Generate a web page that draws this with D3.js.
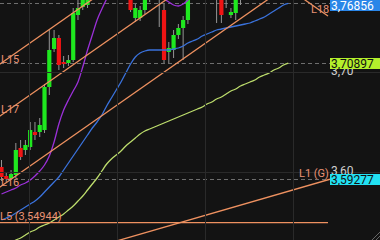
<!DOCTYPE html>
<html>
<head>
<meta charset="utf-8">
<script src="https://cdn.jsdelivr.net/npm/d3@7"></script>
<style>
  html, body { margin: 0; padding: 0; background: #131313; overflow: hidden; }
  #grafica { width: 380px; height: 240px; }
  text { font-family: Roboto, "Noto Sans", sans-serif; }
</style>
</head>
<body>
<div id="grafica"></div>
<script>
// Velas: apertura, cierre, máximo, mínimo (una por índice)
const aperturas = [3.605,3.596,3.594,3.597,3.624,3.622,3.625,3.640,3.640,3.642,
  3.685,3.723,3.734,3.710,3.709,3.712,3.757,3.765,3.767,3.780,
  3.790,3.785,3.795,3.801,3.792,3.785,3.795,3.785,3.754,3.754,
  3.762,3.775,3.785,3.778,3.762,3.720,3.722,3.737,3.744,3.752,
  3.782,3.790,3.783,3.792,3.785,3.790,3.780,3.778,3.757,3.759,
  3.778,3.786,3.780,3.790,3.796,3.788,3.797,3.803,3.795,3.804,3.798];
const cierres = [3.595,3.593,3.598,3.622,3.615,3.627,3.642,3.637,3.647,3.685,
  3.722,3.734,3.707,3.708,3.712,3.759,3.764,3.774,3.782,3.790,
  3.785,3.795,3.801,3.792,3.785,3.795,3.780,3.762,3.764,3.762,
  3.775,3.785,3.778,3.786,3.712,3.724,3.737,3.744,3.752,3.782,
  3.790,3.783,3.792,3.785,3.790,3.780,3.757,3.774,3.760,3.778,
  3.786,3.780,3.790,3.796,3.788,3.797,3.803,3.795,3.804,3.798,3.805];
const maximos = [3.612,3.600,3.602,3.629,3.632,3.632,3.650,3.650,3.654,3.688,
  3.742,3.742,3.737,3.716,3.717,3.764,3.772,3.780,3.787,3.795,
  3.796,3.800,3.806,3.805,3.797,3.800,3.798,3.790,3.768,3.766,
  3.780,3.790,3.792,3.790,3.768,3.730,3.742,3.748,3.756,3.788,
  3.795,3.794,3.797,3.798,3.794,3.793,3.784,3.783,3.764,3.784,
  3.790,3.792,3.795,3.800,3.801,3.802,3.807,3.806,3.808,3.809,3.810];
const minimos = [3.591,3.590,3.592,3.594,3.612,3.617,3.622,3.632,3.635,3.639,
  3.677,3.720,3.702,3.704,3.706,3.710,3.752,3.762,3.764,3.776,
  3.779,3.781,3.790,3.786,3.778,3.779,3.774,3.760,3.750,3.751,
  3.758,3.770,3.774,3.745,3.709,3.709,3.714,3.733,3.712,3.748,
  3.776,3.778,3.779,3.780,3.776,3.749,3.749,3.764,3.754,3.752,
  3.767,3.775,3.776,3.785,3.784,3.785,3.793,3.790,3.791,3.794,3.795];

// Medias móviles
const mediaMorada = [3.578,3.580,3.582,3.584,3.587,3.589,3.592,3.596,3.601,3.607,
  3.616,3.630,3.648,3.662,3.672,3.681,3.690,3.705,3.722,3.737,
  3.752,3.763,3.773,3.781,3.787,3.792,3.796,3.797,3.796,3.792,
  3.787,3.782,3.778,3.775,3.773,3.770,3.767,3.766,3.768,3.772,
  3.777,3.781,3.785,3.787,3.788,3.787,3.786,3.786,3.787,3.789,
  3.791,3.793,3.794,3.795,3.795,3.794,3.793,3.792,3.791,3.790,3.789];
const mediaAzul = [3.552,3.554,3.556,3.559,3.562,3.565,3.568,3.571,3.575,3.580,
  3.585,3.590,3.595,3.602,3.609,3.616,3.623,3.630,3.637,3.644,
  3.650,3.657,3.666,3.674,3.682,3.690,3.699,3.708,3.715,3.719,
  3.721,3.722,3.722,3.722,3.722,3.722,3.723,3.724,3.726,3.729,
  3.731,3.733,3.736,3.738,3.740,3.742,3.743,3.744,3.745,3.746,
  3.747,3.748,3.749,3.751,3.753,3.755,3.758,3.761,3.764,3.767,3.76856];
const mediaVerde = [3.523,3.526,3.529,3.532,3.534,3.537,3.540,3.542,3.545,3.547,
  3.549,3.552,3.555,3.558,3.562,3.566,3.571,3.576,3.582,3.588,
  3.594,3.601,3.608,3.613,3.617,3.621,3.626,3.630,3.634,3.638,
  3.641,3.643,3.645,3.647,3.649,3.651,3.653,3.655,3.657,3.659,
  3.661,3.663,3.665,3.668,3.670,3.673,3.675,3.678,3.681,3.683,
  3.686,3.688,3.690,3.692,3.695,3.697,3.699,3.702,3.704,3.707,3.70897];

// Escala de precios y rejilla de tiempo
const ticksPrecio = [3.60, 3.70];
const ticksTiempo = [5.75, 24.16, 42.57, 60.98];

// Líneas dibujadas: nombre, [índice, precio] inicio y fin
const lineasNombres = ["L15", "L17", "L16", "L18", "L1 (G)", "L5 (3,54944)"];
const lineasInicio = [[-1.36, 3.7045], [-1.36, 3.6525], [-1.36, 3.5815], [60.36, 3.7825], [22.7, 3.5291], [-1.36, 3.54944]];
const lineasFin = [[22.7, 3.785], [37.34, 3.782], [58.26, 3.781], [68.3, 3.756], [68.72, 3.59277], [68.3, 3.54944]];

// Etiquetas de valor actual en la escala
const marcasValor = [3.76856, 3.70897, 3.59277];
const marcasColor = ["#2a86e8", "#b4f02c", "#22e1f2"];
const marcasTexto = ["#ffffff", "#111111", "#111111"];

const ancho = 380, alto = 240;
const finPlot = 330;

const svg = d3.select("#grafica")
  .append("svg")
  .attr("width", ancho)
  .attr("height", alto);

svg.append("rect").attr("width", ancho).attr("height", alto).attr("fill", "#131313");

const x = d3.scaleLinear().domain([0, 60]).range([1.5, 288.3]);
const y = d3.scaleLinear().domain([3.60, 3.70]).range([172, 72]);

svg.append("clipPath").attr("id", "recorte")
  .append("rect").attr("width", finPlot).attr("height", alto);

const g = svg.append("g").attr("clip-path", "url(#recorte)");

// rejilla
svg.selectAll(".gridV").data(ticksTiempo).join("line")
  .attr("x1", d => Math.round(x(d)) + 0.5).attr("x2", d => Math.round(x(d)) + 0.5)
  .attr("y1", 0).attr("y2", alto)
  .attr("stroke", "#2a2a2a").attr("stroke-width", 1);
svg.selectAll(".gridH").data(ticksPrecio).join("line")
  .attr("x1", 0).attr("x2", ancho)
  .attr("y1", d => Math.round(y(d)) + 0.5).attr("y2", d => Math.round(y(d)) + 0.5)
  .attr("stroke", "#2a2a2a").attr("stroke-width", 1);

// líneas discontinuas de precio
g.selectAll(".dash").data(marcasValor).join("line")
  .attr("x1", 0).attr("x2", finPlot)
  .attr("y1", d => Math.round(y(d)) + 0.5).attr("y2", d => Math.round(y(d)) + 0.5)
  .attr("stroke", "#6e6e6e").attr("stroke-width", 1)
  .attr("stroke-dasharray", "4,3");

// velas
const idx = d3.range(aperturas.length);
const anchoVela = 4.2;
g.selectAll(".mecha").data(idx).join("line")
  .attr("x1", i => x(i)).attr("x2", i => x(i))
  .attr("y1", i => y(maximos[i])).attr("y2", i => y(minimos[i]))
  .attr("stroke", "#959595").attr("stroke-width", 1);
g.selectAll(".cuerpo").data(idx).join("rect")
  .attr("x", i => x(i) - anchoVela / 2)
  .attr("width", anchoVela)
  .attr("y", i => y(Math.max(aperturas[i], cierres[i])))
  .attr("height", i => Math.max(1.5, Math.abs(y(aperturas[i]) - y(cierres[i]))))
  .attr("fill", i => cierres[i] >= aperturas[i] ? "#1fe81f" : "#f01414");

// medias
const linea = d3.line().x((d, i) => x(i)).y(d => y(d)).curve(d3.curveMonotoneX);
[[mediaVerde, "#bcdc6c"], [mediaAzul, "#3a72dc"], [mediaMorada, "#9b30d8"]].forEach(([serie, color]) => {
  g.append("path").datum(serie)
    .attr("d", linea)
    .attr("fill", "none")
    .attr("stroke", color)
    .attr("stroke-width", 1.3);
});

// líneas de tendencia y horizontales
g.selectAll(".tend").data(lineasNombres).join("line")
  .attr("x1", (d, k) => x(lineasInicio[k][0])).attr("y1", (d, k) => y(lineasInicio[k][1]))
  .attr("x2", (d, k) => x(lineasFin[k][0])).attr("y2", (d, k) => y(lineasFin[k][1]))
  .attr("stroke", "#ee9160").attr("stroke-width", 1.3);

// nombres de las líneas
const posNombre = [[1, 63], [1, 113], [1, 186], [311, 13], [299, 177], [0, 220]];
svg.selectAll(".nombre").data(lineasNombres).join("text")
  .attr("x", (d, k) => posNombre[k][0]).attr("y", (d, k) => posNombre[k][1])
  .attr("fill", "#e99273")
  .attr("font-size", 11)
  .text(d => d);

// escala de precios
svg.selectAll(".tickP").data(ticksPrecio).join("text")
  .attr("x", 331).attr("y", d => y(d) + 3)
  .attr("fill", "#d0d0d0").attr("font-size", 12)
  .text(d => d.toFixed(2).replace(".", ","));

const marcas = svg.selectAll(".marca").data(marcasValor).join("g")
  .attr("transform", d => `translate(330, ${Math.max(0, Math.round(y(d)) - 5)})`);
marcas.append("rect")
  .attr("width", 50).attr("height", 11)
  .attr("fill", (d, k) => marcasColor[k]);
marcas.append("text")
  .attr("x", 1).attr("y", 9.5)
  .attr("fill", (d, k) => marcasTexto[k])
  .attr("font-size", 12)
  .text(d => d.toFixed(5).replace(".", ","));

// asa de redimensionado
svg.append("path")
  .attr("d", "M372,240 L380,232 M376,240 L380,236")
  .attr("stroke", "#666").attr("stroke-width", 1);
</script>
</body>
</html>
